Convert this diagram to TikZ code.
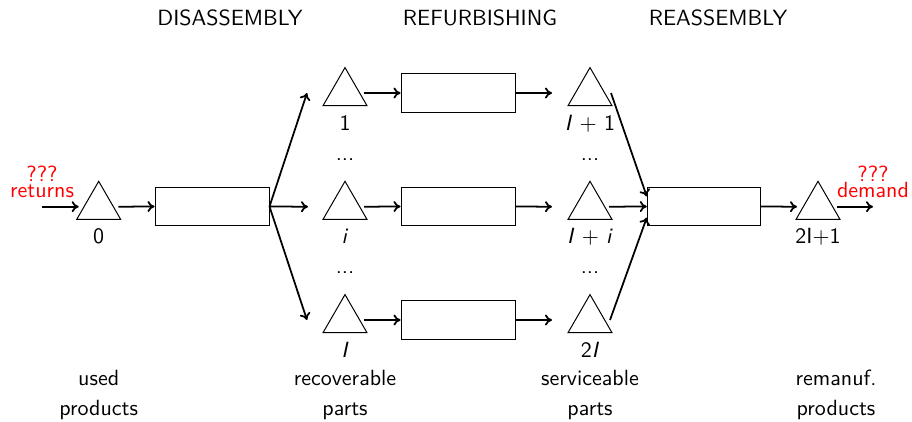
\documentclass[tikz,border=0pt]{standalone}
\usepackage{fontspec}
\usetikzlibrary{shapes.geometric,arrows.meta}
\newdimen\px
\px=0.4545pt
\begin{document}
\begin{tikzpicture}[x=\px, y=-\px, font=\sffamily,
  stock/.style={draw, regular polygon, regular polygon sides=3,
    minimum size=50.8\px, inner sep=0pt, outer sep=0pt, line width=0.45pt},
  proc/.style={draw, rectangle, minimum width=114\px, minimum height=38.5\px,
    inner sep=0pt, line width=0.45pt},
  flow/.style={-{To[length=3.2pt, width=5pt]}, line width=0.8pt},
  lbl/.style={inner sep=0pt, anchor=base},
  qlbl/.style={lbl, text=red}]
\useasboundingbox (0,0) rectangle (912,421);

% stage titles
\node[lbl] (hdis) at (230,25) {DISASSEMBLY};
\node[lbl] (href) at (480,25) {REFURBISHING};
\node[lbl] (hrea) at (718,25) {REASSEMBLY};

% stock points
\node[stock] (t0)  at (98.7,206.7) {};
\node[stock] (t1)  at (345,93)     {};
\node[stock] (ti)  at (345,206.7)  {};
\node[stock] (tI)  at (345,320)    {};
\node[stock] (s1)  at (590,93)     {};
\node[stock] (si)  at (590,206.7)  {};
\node[stock] (s2I) at (590,320)    {};
\node[stock] (tf)  at (818,206.7)  {};

% processes
\node[proc] (dis)  at (212,206.5) {};
\node[proc] (ref1) at (458,93)    {};
\node[proc] (refi) at (458,206.5) {};
\node[proc] (refI) at (458,320)   {};
\node[proc, minimum width=113\px] (rea) at (703.8,206.5) {};

% stock labels
\node[lbl] (l0)   at (98.7,243.5) {0};
\node[lbl] (l1)   at (345,130.5)  {1};
\node[lbl] (d1)   at (345,160.5)  {...};
\node[lbl] (li)   at (345,243.5)  {\textit{i}};
\node[lbl] (d2)   at (345,273.5)  {...};
\node[lbl] (lI)   at (345,357)    {\textit{I}};
\node[lbl] (m1)   at (590,130.5)  {\textit{I} + 1};
\node[lbl] (e1)   at (590,160.5)  {...};
\node[lbl] (mi)   at (590,243.5)  {\textit{I} + \textit{i}};
\node[lbl] (e2)   at (590,273.5)  {...};
\node[lbl] (m2I)  at (590,357)    {2\textit{I}};
\node[lbl] (lf)   at (818,243.5)  {2I+1};

% categories
\node[lbl] (c1a) at (98.7,385) {used};
\node[lbl] (c1b) at (98.7,415) {products};
\node[lbl] (c2a) at (345,385)  {recoverable};
\node[lbl] (c2b) at (345,415)  {parts};
\node[lbl] (c3a) at (590,385)  {serviceable};
\node[lbl] (c3b) at (590,415)  {parts};
\node[lbl] (c4a) at (836,385)  {remanuf.};
\node[lbl] (c4b) at (836,415)  {products};

% external flows
\coordinate (src) at (42,206.7);
\coordinate (snk) at (873,206.7);
\node[qlbl] (q1) at (42,181.5)  {???};
\node[qlbl] (r1) at (42,197.5)  {returns};
\node[qlbl] (q2) at (873,181.5) {???};
\node[qlbl] (r2) at (873,197.5) {demand};

\draw[flow] (src) -- ([xshift=-20\px]t0.center);
\draw[flow] ([xshift=19.6\px]t0.center) -- (dis.west);

% disassembly into parts
\draw[flow] (dis.east) -- ([xshift=-38\px]t1.center);
\draw[flow] (dis.east) -- ([xshift=-37\px]ti.center);
\draw[flow] (dis.east) -- ([xshift=-38\px]tI.center);

% refurbishing lines
\draw[flow] ([xshift=19\px]t1.center) -- (ref1.west);
\draw[flow] ([xshift=19\px]ti.center) -- (refi.west);
\draw[flow] ([xshift=19\px]tI.center) -- (refI.west);
\draw[flow] (ref1.east) -- ([xshift=-38\px]s1.center);
\draw[flow] (refi.east) -- ([xshift=-38\px]si.center);
\draw[flow] (refI.east) -- ([xshift=-38\px]s2I.center);

% reassembly
\draw[flow] ([xshift=21\px]s1.center) -- ([yshift=10\px]rea.west);
\draw[flow] ([xshift=19\px]si.center) -- (rea.west);
\draw[flow] ([xshift=20\px]s2I.center) -- ([yshift=-11\px]rea.west);
\draw[flow] (rea.east) -- ([xshift=-21\px]tf.center);
\draw[flow] ([xshift=19\px]tf.center) -- (snk);
\end{tikzpicture}
\end{document}
